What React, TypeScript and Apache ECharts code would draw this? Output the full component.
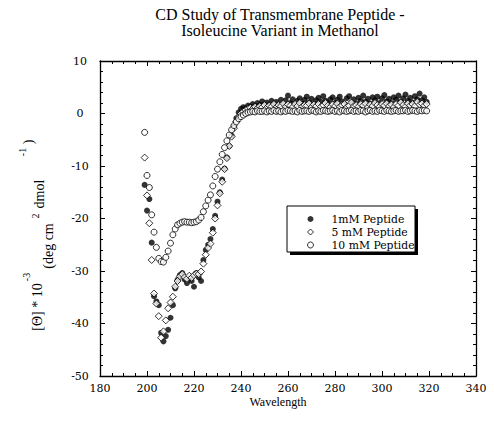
import React, { useEffect, useRef } from "react";
import * as echarts from "echarts";

const wavelengths = [
  199, 200, 201, 202, 203, 204, 205, 206, 207, 208,
  209, 210, 211, 212, 213, 214, 215, 216, 217, 218,
  219, 220, 221, 222, 223, 224, 225, 226, 227, 228,
  229, 230, 231, 232, 233, 234, 235, 236, 237, 238,
  239, 240, 241, 242, 243, 244, 245, 246, 247, 248,
  249, 250, 251, 252, 253, 254, 255, 256, 257, 258,
  259, 260, 261, 262, 263, 264, 265, 266, 267, 268,
  269, 270, 271, 272, 273, 274, 275, 276, 277, 278,
  279, 280, 281, 282, 283, 284, 285, 286, 287, 288,
  289, 290, 291, 292, 293, 294, 295, 296, 297, 298,
  299, 300, 301, 302, 303, 304, 305, 306, 307, 308,
  309, 310, 311, 312, 313, 314, 315, 316, 317, 318,
  319,
];

const peptide1mM = [
  -13.6, -18.5, -16.3, -24.6, -34.8, -35.8, -36.5, -41.8, -43.4, -42.4,
  -41.2, -38.9, -36.5, -33.3, -31.7, -30.8, -30.4, -31.6, -32.3, -31.4,
  -31.9, -33.0, -30.4, -31.2, -31.9, -27.9, -26.0, -25.0, -23.9, -22.0,
  -19.5, -16.8, -15.0, -12.6, -10.5, -8.4, -6.2, -4.2, -2.4, -0.9,
  0.2, 0.9, 1.2, 1.0, 1.5, 1.3, 1.8, 1.4, 2.0, 1.6,
  2.3, 1.7, 2.1, 1.5, 2.4, 1.9, 2.2, 1.6, 2.6, 1.8,
  2.5, 3.4, 2.0, 2.7, 1.7, 2.4, 2.9, 1.9, 2.6, 3.2,
  2.1, 2.8, 1.8, 2.5, 3.0, 2.2, 3.3, 2.4, 1.9, 2.7,
  3.1, 2.0, 2.6, 3.2, 2.3, 1.8, 2.9, 3.3, 2.1, 2.7,
  1.9, 3.0, 2.4, 3.4, 2.2, 2.8, 1.9, 3.1, 2.5, 3.2,
  2.0, 2.9, 3.5, 2.3, 2.8, 2.0, 3.1, 2.6, 3.4, 2.2,
  2.9, 3.6, 2.4, 3.0, 2.1, 3.3, 2.7, 3.8, 2.5, 3.1,
  2.2,
];

const peptide5mM = [
  -8.4, -15.6, -20.9, -27.9, -34.3, -36.2, -38.6, -42.7, -41.5, -39.4,
  -37.1, -36.0, -34.9, -33.0, -31.9, -31.0, -30.6, -31.2, -31.5, -30.9,
  -31.3, -30.8, -30.5, -30.6, -30.1, -28.6, -26.9, -25.6, -24.8, -22.7,
  -20.0, -17.5, -15.2, -13.0, -10.6, -8.5, -6.2, -4.4, -2.8, -1.5,
  -0.6, 0.0, 0.4, 0.7, 0.9, 1.1, 0.9, 1.3, 1.0, 1.4,
  1.2, 1.6, 1.1, 1.5, 1.3, 1.8, 1.2, 1.6, 1.4, 1.9,
  1.3, 1.7, 1.5, 1.2, 1.8, 1.4, 2.0, 1.3, 1.6, 1.5,
  1.9, 1.2, 1.7, 1.4, 1.8, 1.3, 1.6, 2.0, 1.5, 1.2,
  1.7, 1.4, 1.9, 1.3, 1.6, 1.8, 1.2, 1.5, 2.1, 1.4,
  1.6, 1.3, 1.8, 1.5, 1.9, 1.2, 1.7, 1.4, 2.0, 1.6,
  1.3, 1.8, 1.5, 1.9, 1.4, 1.7, 1.2, 1.8, 1.5, 2.1,
  1.6, 1.3, 1.9, 1.5, 1.8, 1.4, 2.2, 1.7, 1.9, 1.5,
  1.8,
];

const peptide10mM = [
  -3.6, -11.8, -14.1, -19.3, -22.6, -25.5, -27.6, -28.2, -28.3, -27.4,
  -26.2, -24.7, -23.1, -22.0, -21.2, -20.9, -20.7, -20.6, -20.7, -20.7,
  -20.8, -20.7, -20.6, -20.3, -19.8, -18.7, -17.6, -16.5, -15.5, -13.8,
  -12.0, -10.6, -9.2, -7.8, -6.5, -5.2, -4.1, -3.1, -2.3, -1.6,
  -1.0, -0.6, -0.3, 0.0, 0.2, 0.3, 0.4, 0.3, 0.5, 0.4,
  0.4, 0.5, 0.3, 0.5, 0.4, 0.6, 0.4, 0.5, 0.3, 0.5,
  0.4, 0.6, 0.5, 0.4, 0.5, 0.3, 0.6, 0.4, 0.5, 0.5,
  0.4, 0.6, 0.5, 0.3, 0.5, 0.4, 0.6, 0.5, 0.4, 0.5,
  0.6, 0.4, 0.5, 0.3, 0.6, 0.5, 0.4, 0.5, 0.6, 0.4,
  0.5, 0.4, 0.6, 0.5, 0.3, 0.5, 0.6, 0.4, 0.5, 0.4,
  0.6, 0.5, 0.4, 0.6, 0.5, 0.4, 0.5, 0.6, 0.4, 0.5,
  0.5, 0.6, 0.4, 0.5, 0.6, 0.5, 0.4, 0.6, 0.5, 0.6,
  0.5,
];

const seriesNames = ["1mM Peptide", "5 mM Peptide", "10 mM Peptide"];
const titleLines = ["CD Study of Transmembrane Peptide -", "Isoleucine Variant in Methanol"];
const xAxisTitle = "Wavelength";

const SERIF = "Liberation Serif";
const TICK_FONT = "DejaVu Serif";

function zip(values: number[]) {
  return wavelengths.map((w, i) => [w, values[i]]);
}

export default function App() {
  const ref = useRef<HTMLDivElement>(null);

  useEffect(() => {
    if (!ref.current) return;
    const chart = echarts.init(ref.current, null, { renderer: "svg" });

    const xBase = {
      type: "value" as const,
      min: 180,
      max: 340,
      interval: 20,
      axisLine: { show: true, onZero: false, lineStyle: { color: "#000", width: 1.3 } },
      axisTick: { show: true, inside: true, length: 5, lineStyle: { color: "#000", width: 1 } },
      minorTick: { show: true, splitNumber: 4, length: 3, lineStyle: { color: "#000", width: 1 } },
      splitLine: { show: false },
      minorSplitLine: { show: false },
    };
    const yBase = {
      type: "value" as const,
      min: -50,
      max: 10,
      interval: 10,
      axisLine: { show: true, onZero: false, lineStyle: { color: "#000", width: 1.3 } },
      axisTick: { show: true, inside: true, length: 5, lineStyle: { color: "#000", width: 1 } },
      minorTick: { show: true, splitNumber: 5, length: 3, lineStyle: { color: "#000", width: 1 } },
      splitLine: { show: false },
      minorSplitLine: { show: false },
    };

    const labelText = (text: string, x: number, y: number, size: number) => ({
      type: "text",
      x,
      y,
      rotation: Math.PI / 2,
      style: {
        text,
        fontFamily: SERIF,
        fontSize: size,
        fill: "#000",
        align: "center",
        verticalAlign: "middle",
      },
    });

    chart.setOption({
      animation: false,
      backgroundColor: "#fff",
      title: {
        text: titleLines.join("\n"),
        left: 280,
        top: 6,
        padding: 0,
        textAlign: "center",
        textStyle: {
          fontFamily: SERIF,
          fontSize: 16,
          fontWeight: "normal",
          lineHeight: 16,
          color: "#000",
        },
      },
      grid: { left: 100, top: 61, width: 376, height: 315, containLabel: false },
      xAxis: [
        {
          ...xBase,
          position: "bottom",
          axisLabel: {
            show: true,
            color: "#000",
            fontFamily: TICK_FONT,
            fontSize: 11,
            margin: 7,
          },
        },
        { ...xBase, position: "top", axisLabel: { show: false } },
      ],
      yAxis: [
        {
          ...yBase,
          position: "left",
          axisLabel: {
            show: true,
            color: "#000",
            fontFamily: TICK_FONT,
            fontSize: 11,
            margin: 20,
            align: "center",
          },
        },
        { ...yBase, position: "right", axisLabel: { show: false } },
      ],
      legend: {
        show: true,
        orient: "vertical",
        left: 307,
        top: 213,
        padding: 0,
        itemWidth: 6,
        itemHeight: 6,
        itemGap: 1,
        selectedMode: false,
        textStyle: {
          fontFamily: TICK_FONT,
          fontSize: 10.8,
          lineHeight: 12,
          color: "#000",
          padding: [0, 0, 0, 13],
        },
        data: [
          { name: seriesNames[0], icon: "circle", itemStyle: { color: "#000", borderWidth: 0 } },
          {
            name: seriesNames[1],
            icon: "diamond",
            itemStyle: { color: "#fff", borderColor: "#000", borderWidth: 1 },
          },
          {
            name: seriesNames[2],
            icon: "circle",
            itemStyle: { color: "#fff", borderColor: "#000", borderWidth: 1 },
          },
        ],
      },
      graphic: [
        {
          type: "rect",
          z: 1,
          shape: { x: 290, y: 209, width: 128, height: 46 },
          style: { fill: "#000" },
        },
        {
          type: "rect",
          z: 2,
          shape: { x: 287, y: 206, width: 128, height: 46 },
          style: { fill: "#fff", stroke: "#000", lineWidth: 1 },
        },
        {
          type: "text",
          x: 278,
          y: 402,
          style: {
            text: xAxisTitle,
            fontFamily: SERIF,
            fontSize: 12,
            fill: "#000",
            align: "center",
            verticalAlign: "middle",
          },
        },
        labelText("[\u0398] * 10", 37, 307, 14),
        labelText("-3", 26, 277, 10),
        labelText("(deg cm", 48, 246, 14),
        labelText("2", 35, 216, 10),
        labelText("dmol", 39, 194, 14),
        labelText("-1", 22, 152, 10),
        labelText(")", 28, 142, 14),
      ],
      series: [
        {
          name: seriesNames[0],
          type: "scatter",
          symbol: "circle",
          symbolSize: 6,
          itemStyle: { color: "#000" },
          data: zip(peptide1mM),
          z: 3,
        },
        {
          name: seriesNames[1],
          type: "scatter",
          symbol: "diamond",
          symbolSize: 7,
          itemStyle: { color: "#fff", borderColor: "#000", borderWidth: 1 },
          data: zip(peptide5mM),
          z: 4,
        },
        {
          name: seriesNames[2],
          type: "scatter",
          symbol: "circle",
          symbolSize: 6,
          itemStyle: { color: "#fff", borderColor: "#000", borderWidth: 1 },
          data: zip(peptide10mM),
          z: 5,
        },
      ],
    });

    return () => chart.dispose();
  }, []);

  return (
    <div
      ref={ref}
      style={{ position: "fixed", left: 0, top: 0, width: 494, height: 429, background: "#fff" }}
    />
  );
}
